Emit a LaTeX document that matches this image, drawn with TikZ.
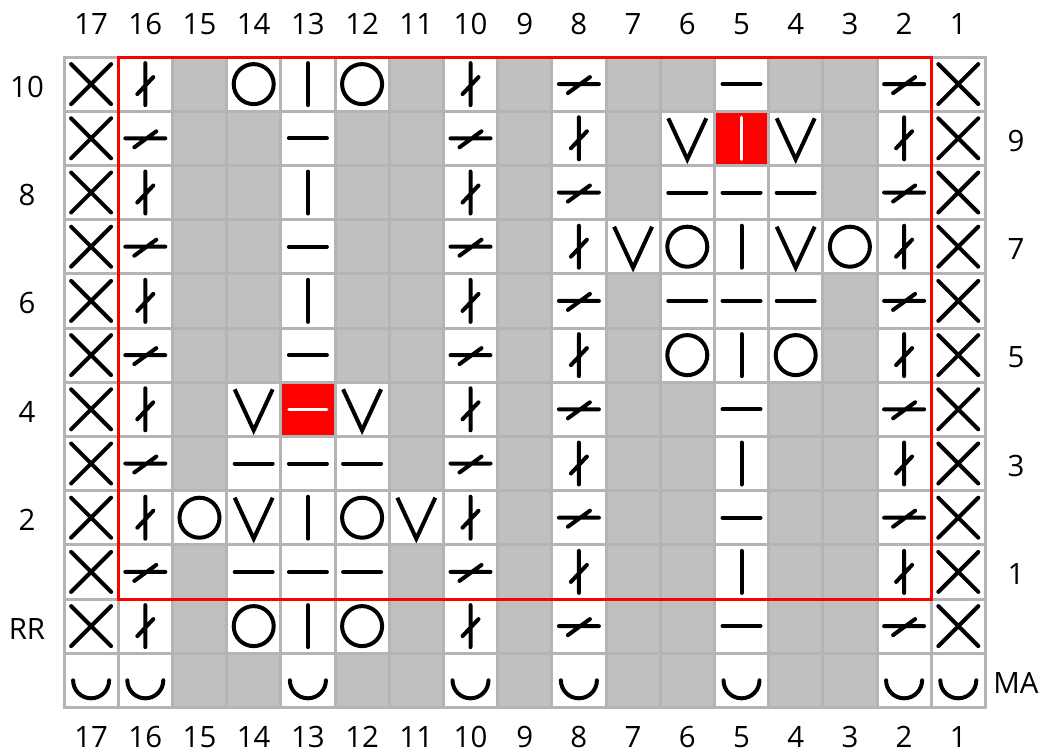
\documentclass[tikz,border=0pt]{standalone}
\usepackage{fontspec}
\setmainfont{Open Sans}
\definecolor{gridline}{HTML}{B4B4B4}
\definecolor{nostitch}{HTML}{C0C0C0}
\definecolor{chartred}{HTML}{FF0000}
\tikzset{
  cell/.style={draw=gridline, line width=1.5pt},
  stitch/.style={line width=2pt, line cap=round},
  numlabel/.style={font=\fontsize{14.7}{17}\selectfont, inner sep=0pt},
}
% cell contents, drawn round the cell centre (y grows downwards)
\newcommand\cellbox[1]{\draw[cell, fill=#1] (-27.1,-27.1) rectangle (27.1,27.1);}
\newcommand\knitns{\cellbox{nostitch}}
\newcommand\knitx{\cellbox{white}\draw[stitch] (-20,-20) -- (20,20) (-20,20) -- (20,-20);}
\newcommand\knittk{\cellbox{white}\draw[stitch] (0,-21) -- (0,21) (-8,10) -- (8,-7);}
\newcommand\knittp{\cellbox{white}\draw[stitch] (-20,0) -- (20,0) (-11,9) -- (11,-7);}
\newcommand\knityo{\cellbox{white}\draw[stitch] (0,0) circle[radius=20];}
\newcommand\knitk{\cellbox{white}\draw[stitch] (0,-21) -- (0,21);}
\newcommand\knitp{\cellbox{white}\draw[stitch] (-19,0) -- (19,0);}
\newcommand\knitv{\cellbox{white}\draw[stitch, line cap=butt] (-19,-20) -- (0,21) -- (19,-20);}
\newcommand\knitrk{\cellbox{chartred}\draw[stitch, white, line width=1.6pt] (0,-21) -- (0,21);}
\newcommand\knitrp{\cellbox{chartred}\draw[stitch, white, line width=1.6pt] (-19,0) -- (19,0);}
\newcommand\knitcu{\cellbox{white}\draw[stitch] (-18,0) arc[start angle=180, end angle=0, radius=18];}

\begin{document}
\begin{tikzpicture}[x=0.5pt, y=-0.5pt]
  \useasboundingbox (0,0) rectangle (1040,752);
  % chart rows, top to bottom; columns 17 to 1
  \foreach \rowcodes [count=\r] in {
    {x,tk,ns,yo,k,yo,ns,tk,ns,tp,ns,ns,p,ns,ns,tp,x},
    {x,tp,ns,ns,p,ns,ns,tp,ns,tk,ns,v,rk,v,ns,tk,x},
    {x,tk,ns,ns,k,ns,ns,tk,ns,tp,ns,p,p,p,ns,tp,x},
    {x,tp,ns,ns,p,ns,ns,tp,ns,tk,v,yo,k,v,yo,tk,x},
    {x,tk,ns,ns,k,ns,ns,tk,ns,tp,ns,p,p,p,ns,tp,x},
    {x,tp,ns,ns,p,ns,ns,tp,ns,tk,ns,yo,k,yo,ns,tk,x},
    {x,tk,ns,v,rp,v,ns,tk,ns,tp,ns,ns,p,ns,ns,tp,x},
    {x,tp,ns,p,p,p,ns,tp,ns,tk,ns,ns,k,ns,ns,tk,x},
    {x,tk,yo,v,k,yo,v,tk,ns,tp,ns,ns,p,ns,ns,tp,x},
    {x,tp,ns,p,p,p,ns,tp,ns,tk,ns,ns,k,ns,ns,tk,x},
    {x,tk,ns,yo,k,yo,ns,tk,ns,tp,ns,ns,p,ns,ns,tp,x},
    {cu,cu,ns,ns,cu,ns,ns,cu,ns,cu,ns,ns,cu,ns,ns,cu,cu}}{
    \foreach \code [count=\c] in \rowcodes {
      \pgfmathsetmacro\cx{64+(\c-0.5)*54.2}
      \pgfmathsetmacro\cy{57+(\r-0.5)*54.2}
      \begin{scope}[shift={(\cx,\cy)}]
        \csname knit\code\endcsname
      \end{scope}
    }
  }
  % repeat frame
  \draw[chartred, line width=1.5pt] (118.2,57) rectangle (931.2,599);
  % column numbers
  \foreach \n in {1,...,17}{
    \pgfmathsetmacro\lx{64+(17.5-\n)*54.2}
    \node[numlabel] (top\n) at (\lx,24) {\n};
    \node[numlabel] (bottom\n) at (\lx,737) {\n};
  }
  % row numbers
  \foreach \t/\r in {10/1,8/3,6/5,4/7,2/9,RR/11}{
    \node[numlabel] (left\t) at (27,{57+(\r-0.5)*54.2+2.5}) {\t};
  }
  \foreach \t/\r in {9/2,7/4,5/6,3/8,1/10,MA/12}{
    \node[numlabel] (right\t) at (1016,{57+(\r-0.5)*54.2+2.5}) {\t};
  }
\end{tikzpicture}
\end{document}
